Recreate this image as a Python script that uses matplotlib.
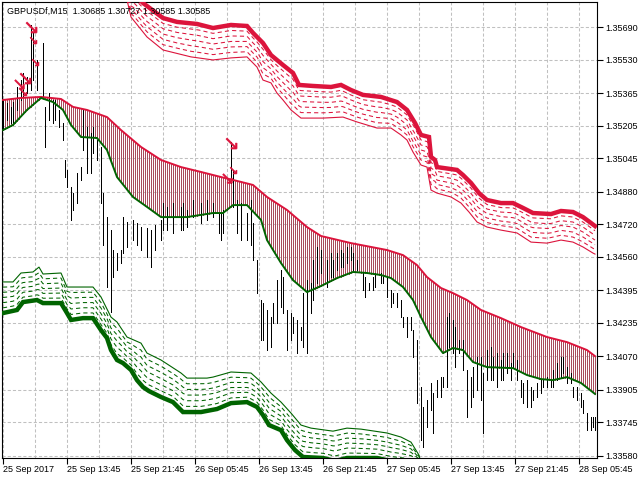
import numpy as np
import matplotlib
matplotlib.use("Agg")
import matplotlib.pyplot as plt
from matplotlib.ticker import MultipleLocator

plt.rcParams['font.family'] = ['Liberation Sans', 'DejaVu Sans']

# ---- data (M15 bar number, price) ----
title = "GBPUSDf,M15  1.30685 1.30727 1.30585 1.30585"

price_ticks = [1.35690, 1.35530, 1.35365, 1.35205, 1.35045, 1.34880, 1.34720,
               1.34560, 1.34395, 1.34235, 1.34070, 1.33905, 1.33745, 1.33580]
price_labels = ["%.5f" % p for p in price_ticks]

time_ticks = [0, 32, 64, 96, 128, 160, 192, 224, 256, 288]
time_labels = ["25 Sep 2017", "25 Sep 13:45", "25 Sep 21:45", "26 Sep 05:45",
               "26 Sep 13:45", "26 Sep 21:45", "27 Sep 05:45", "27 Sep 13:45",
               "27 Sep 21:45", "28 Sep 05:45"]

bar_idx = [0, 2, 4, 5, 7, 9, 10, 12, 14, 15, 17, 20, 21, 23, 25, 26, 28, 30, 31, 32,
           34, 35, 37, 39, 40, 42, 44, 45, 47, 49, 50, 52, 54, 55, 57, 59, 60, 62, 65, 67,
           69, 72, 74, 76, 79, 80, 82, 85, 89, 90, 92, 95, 99, 102, 105, 108, 109, 110, 114, 115,
           117, 119, 122, 124, 125, 127, 129, 130, 132, 134, 135, 137, 139, 140, 142, 144, 145, 147, 149, 150,
           152, 154, 155, 157, 159, 162, 164, 165, 167, 169, 170, 172, 174, 175, 177, 180, 181, 183, 185, 186,
           189, 190, 192, 194, 195, 197, 199, 200, 202, 204, 205, 207, 209, 210, 212, 214, 215, 217, 219, 220,
           222, 223, 225, 226, 228, 230, 232, 234, 235, 237, 239, 240, 242, 244, 245, 247, 249, 250, 252, 254,
           255, 257, 259, 260, 262, 264, 265, 267, 269, 270, 272, 274, 275, 277, 279, 280, 282, 284, 285, 287,
           289, 290, 292, 294, 295, 296]
bar_high = [1.35331, 1.35316, 1.35297, 1.35321, 1.35395, 1.35429, 1.35464, 1.35444, 1.35700, 1.35661,
            1.35528, 1.35611, 1.35297, 1.35365, 1.35331, 1.35331, 1.35282, 1.35218, 1.35036, 1.34987,
            1.34903, 1.34873, 1.34972, 1.35001, 1.35282, 1.35198, 1.35169, 1.35198, 1.35134, 1.35100,
            1.34873, 1.34755, 1.34691, 1.34593, 1.34578, 1.34593, 1.34755, 1.34731, 1.34741, 1.34726,
            1.34706, 1.34701, 1.34691, 1.34716, 1.34741, 1.34824, 1.34805, 1.34824, 1.34805, 1.34824,
            1.34790, 1.34839, 1.34824, 1.34839, 1.34824, 1.34775, 1.34775, 1.34790, 1.35124, 1.34987,
            1.34839, 1.34824, 1.34775, 1.34839, 1.34726, 1.34544, 1.34347, 1.34332, 1.34298, 1.34263,
            1.34332, 1.34445, 1.34495, 1.34460, 1.34298, 1.34283, 1.34263, 1.34249, 1.34214, 1.34381,
            1.34445, 1.34431, 1.34544, 1.34608, 1.34593, 1.34544, 1.34578, 1.34544, 1.34578, 1.34593,
            1.34578, 1.34608, 1.34608, 1.34578, 1.34544, 1.34480, 1.34460, 1.34431, 1.34460, 1.34480,
            1.34480, 1.34460, 1.34460, 1.34396, 1.34381, 1.34381, 1.34347, 1.34263, 1.34263, 1.34263,
            1.34199, 1.34150, 1.33919, 1.33821, 1.33855, 1.33939, 1.33889, 1.33953, 1.33968, 1.33968,
            1.34263, 1.34283, 1.34249, 1.34214, 1.34150, 1.34150, 1.34003, 1.33968, 1.34017, 1.34067,
            1.34067, 1.33988, 1.34101, 1.34116, 1.34067, 1.34086, 1.34052, 1.34086, 1.34086, 1.34037,
            1.34086, 1.34052, 1.33953, 1.33939, 1.33953, 1.33919, 1.33904, 1.33939, 1.33953, 1.33953,
            1.33968, 1.33953, 1.34003, 1.34037, 1.34067, 1.34067, 1.34017, 1.33988, 1.33919, 1.33919,
            1.33889, 1.33855, 1.33791, 1.33771, 1.33771, 1.33771]
bar_low = [1.35183, 1.35233, 1.35218, 1.35218, 1.35282, 1.35331, 1.35346, 1.35365, 1.35380, 1.35429,
           1.35380, 1.35346, 1.35100, 1.35233, 1.35218, 1.35233, 1.35198, 1.35134, 1.34952, 1.34903,
           1.34741, 1.34790, 1.34824, 1.34937, 1.35085, 1.34972, 1.34972, 1.35070, 1.35036, 1.34824,
           1.34618, 1.34411, 1.34288, 1.34460, 1.34495, 1.34529, 1.34578, 1.34608, 1.34642, 1.34618,
           1.34593, 1.34559, 1.34509, 1.34593, 1.34642, 1.34691, 1.34691, 1.34677, 1.34691, 1.34691,
           1.34706, 1.34755, 1.34726, 1.34741, 1.34755, 1.34677, 1.34642, 1.34677, 1.34923, 1.34805,
           1.34677, 1.34642, 1.34642, 1.34618, 1.34544, 1.34381, 1.34150, 1.34150, 1.34101, 1.34116,
           1.34234, 1.34234, 1.34313, 1.34283, 1.34101, 1.34150, 1.34185, 1.34086, 1.34150, 1.34116,
           1.34086, 1.34283, 1.34347, 1.34431, 1.34480, 1.34411, 1.34460, 1.34460, 1.34495, 1.34509,
           1.34509, 1.34529, 1.34544, 1.34495, 1.34495, 1.34396, 1.34362, 1.34396, 1.34396, 1.34411,
           1.34431, 1.34431, 1.34362, 1.34313, 1.34332, 1.34313, 1.34263, 1.34214, 1.34165, 1.34199,
           1.34067, 1.33840, 1.33658, 1.33624, 1.33722, 1.33806, 1.33693, 1.33870, 1.33870, 1.33919,
           1.33919, 1.34116, 1.34086, 1.34017, 1.34086, 1.34003, 1.33771, 1.33821, 1.33870, 1.33904,
           1.33855, 1.33693, 1.33953, 1.33953, 1.33953, 1.33919, 1.33953, 1.33953, 1.33988, 1.33953,
           1.34017, 1.33953, 1.33870, 1.33840, 1.33821, 1.33821, 1.33855, 1.33870, 1.33889, 1.33919,
           1.33919, 1.33919, 1.33919, 1.33953, 1.33968, 1.33988, 1.33939, 1.33939, 1.33870, 1.33855,
           1.33821, 1.33791, 1.33707, 1.33707, 1.33722, 1.33707]

# envelope band (upper red / lower green)
band_hi_idx = [0, 9, 19, 29, 35, 42, 52, 59, 69, 79, 89, 99, 109, 119, 125, 132, 142, 152, 159, 174,
               192, 200, 207, 212, 219, 225, 232, 239, 249, 259, 272, 282, 292, 296]
band_hi = [1.35331, 1.35341, 1.35346, 1.35336, 1.35297, 1.35282, 1.35247, 1.35183, 1.35100, 1.35036,
           1.35001, 1.34977, 1.34952, 1.34928, 1.34913, 1.34854, 1.34790, 1.34706, 1.34662, 1.34627,
           1.34593, 1.34568, 1.34519, 1.34460, 1.34406, 1.34381, 1.34347, 1.34298, 1.34258, 1.34214,
           1.34165, 1.34140, 1.34101, 1.34071]
band_lo_idx = [0, 5, 12, 19, 25, 30, 34, 39, 47, 52, 57, 65, 72, 79, 92, 105, 110, 115, 122, 129,
               132, 139, 145, 152, 159, 167, 175, 182, 189, 194, 200, 205, 209, 214, 220, 225, 230, 235,
               242, 255, 262, 269, 275, 282, 289, 296]
band_lo = [1.35183, 1.35208, 1.35282, 1.35341, 1.35321, 1.35282, 1.35208, 1.35149, 1.35144, 1.35085,
           1.34952, 1.34854, 1.34805, 1.34755, 1.34755, 1.34775, 1.34775, 1.34814, 1.34814, 1.34741,
           1.34642, 1.34529, 1.34445, 1.34386, 1.34416, 1.34455, 1.34485, 1.34480, 1.34470, 1.34455,
           1.34411, 1.34347, 1.34263, 1.34165, 1.34086, 1.34111, 1.34101, 1.34042, 1.34017, 1.34012,
           1.33978, 1.33958, 1.33953, 1.33968, 1.33939, 1.33885]

# upper channel (thick top edge / thin lower edge)
ch_top_idx = [66, 70, 80, 87, 97, 105, 114, 122, 125, 130, 134, 140, 145, 148, 155, 164, 169, 174, 180, 189,
              197, 202, 206, 209, 213, 214, 216, 217, 227, 230, 234, 238, 242, 249, 255, 260, 265, 274, 279, 285,
              290, 294, 296]
ch_top = [1.35848, 1.35808, 1.35734, 1.35715, 1.35705, 1.35685, 1.35700, 1.35695, 1.35661, 1.35611,
          1.35552, 1.35503, 1.35464, 1.35405, 1.35400, 1.35395, 1.35405, 1.35380, 1.35356, 1.35346,
          1.35321, 1.35282, 1.35218, 1.35159, 1.35149, 1.35051, 1.35036, 1.35001, 1.34987, 1.34962,
          1.34923, 1.34873, 1.34839, 1.34824, 1.34824, 1.34800, 1.34775, 1.34770, 1.34785, 1.34780,
          1.34755, 1.34726, 1.34711]
ch_top_lo_idx = [59, 62, 64, 72, 80, 94, 105, 114, 122, 127, 130, 134, 137, 140, 144, 149, 160, 170, 177, 187,
                 194, 199, 202, 205, 209, 212, 214, 217, 224, 229, 233, 237, 242, 249, 257, 264, 272, 279, 285, 290,
                 295, 296]
ch_top_lo = [1.35897, 1.35823, 1.35739, 1.35641, 1.35577, 1.35543, 1.35528, 1.35538, 1.35543, 1.35493,
             1.35429, 1.35415, 1.35365, 1.35331, 1.35282, 1.35242, 1.35242, 1.35247, 1.35223, 1.35193,
             1.35193, 1.35159, 1.35134, 1.35075, 1.35011, 1.35001, 1.34888, 1.34873, 1.34854, 1.34824,
             1.34780, 1.34731, 1.34706, 1.34691, 1.34677, 1.34632, 1.34627, 1.34642, 1.34632, 1.34608,
             1.34578, 1.34573]

# lower channel (thick bottom edge / thin upper edge)
ch_bot_idx = [0, 7, 10, 17, 20, 29, 32, 34, 40, 45, 49, 52, 54, 57, 60, 64, 67, 70, 73, 79,
              85, 90, 99, 107, 114, 122, 127, 130, 133, 139, 142, 146, 150, 160, 166, 172, 187, 194, 209]
ch_bot = [1.34283, 1.34298, 1.34337, 1.34347, 1.34332, 1.34332, 1.34283, 1.34249, 1.34258, 1.34258,
          1.34199, 1.34160, 1.34101, 1.34052, 1.34037, 1.34003, 1.33953, 1.33919, 1.33899, 1.33870,
          1.33845, 1.33796, 1.33796, 1.33811, 1.33840, 1.33845, 1.33821, 1.33781, 1.33732, 1.33707,
          1.33658, 1.33609, 1.33575, 1.33570, 1.33555, 1.33570, 1.33570, 1.33555, 1.33545]
ch_bot_hi_idx = [0, 5, 9, 15, 18, 20, 29, 32, 45, 49, 54, 57, 62, 69, 72, 79, 89, 92, 102, 105,
                 114, 124, 129, 134, 139, 144, 149, 154, 165, 172, 179, 192, 199, 204, 208, 209]
ch_bot_hi = [1.34436, 1.34436, 1.34480, 1.34485, 1.34509, 1.34475, 1.34480, 1.34411, 1.34411, 1.34362,
             1.34263, 1.34239, 1.34165, 1.34135, 1.34086, 1.34052, 1.33988, 1.33963, 1.33963, 1.33968,
             1.33993, 1.33988, 1.33944, 1.33889, 1.33845, 1.33791, 1.33732, 1.33717, 1.33702, 1.33717,
             1.33712, 1.33693, 1.33673, 1.33648, 1.33584, 1.33545]

# sell signal arrows
sig_idx = [14, 15, 16, 11, 8, 10, 114, 115, 112]
sig_price = [1.35690, 1.35626, 1.35518, 1.35439, 1.35410, 1.35370, 1.35119, 1.34987, 1.34947]
sig_size = [8, 5, 5, 8, 7, 5, 8, 5, 7]

RED = "#DC143C"
GREEN = "#006400"
N_LEVELS = 6

fig = plt.figure(figsize=(6.4, 4.8), dpi=100)
ax = fig.add_axes([2 / 640, 22 / 480, 595 / 640, 456 / 480])
ax.set_xlim(-0.5, 297)
ax.set_ylim(1.33570, 1.35813)

# envelope histogram
g = np.arange(0, 297)
hi = np.interp(g, band_hi_idx, band_hi)
lo = np.interp(g, band_lo_idx, band_lo)
ax.vlines(g, lo, hi, colors="#a84c5c", linewidth=0.72, antialiased=False, zorder=1)

# price bars
ax.vlines(bar_idx, bar_low, bar_high, colors="black", linewidth=0.65, antialiased=False, zorder=3)

ax.plot(band_hi_idx, band_hi, color=RED, lw=1.4, zorder=4)
ax.plot(band_lo_idx, band_lo, color=GREEN, lw=1.4, zorder=4)

# upper channel
gt = np.arange(62, 297)
top_a = np.interp(gt, ch_top_idx, ch_top)
top_b = np.interp(gt, ch_top_lo_idx, ch_top_lo)
for k in range(1, N_LEVELS):
    ax.plot(gt, top_a + (top_b - top_a) * k / N_LEVELS, color=RED, lw=0.75,
            dashes=(4, 3), zorder=4)
ax.plot(ch_top_lo_idx, ch_top_lo, color=RED, lw=0.8, zorder=4)
ax.plot(ch_top_idx, ch_top, color=RED, lw=3.2, solid_joinstyle="miter", zorder=5)

# lower channel
gb = np.arange(0, 210)
bot_a = np.interp(gb, ch_bot_idx, ch_bot)
bot_b = np.interp(gb, ch_bot_hi_idx, ch_bot_hi)
for k in range(1, N_LEVELS):
    ax.plot(gb, bot_a + (bot_b - bot_a) * k / N_LEVELS, color=GREEN, lw=0.75,
            dashes=(4, 3), zorder=4)
ax.plot(ch_bot_hi_idx, ch_bot_hi, color=GREEN, lw=0.8, zorder=4)
ax.plot(ch_bot_idx, ch_bot, color=GREEN, lw=3.2, solid_joinstyle="miter", zorder=5)

# signal arrows as markers
for i, p, s in zip(sig_idx, sig_price, sig_size):
    ax.plot([i], [p], marker=r"$\searrow$", markersize=s, color=RED,
            markeredgewidth=0.4, linestyle="none", zorder=6)

# axes cosmetics
ax.set_yticks(price_ticks)
ax.set_yticklabels(price_labels)
ax.yaxis.tick_right()
ax.set_xticks(time_ticks)
ax.set_xticklabels(time_labels, ha="left")
ax.xaxis.set_minor_locator(MultipleLocator(16))
ax.grid(which="both", color="#c0c0c0", linestyle=(0, (3, 2)), linewidth=0.75, zorder=0)
ax.set_axisbelow(True)
ax.tick_params(axis="x", which="minor", length=0)
ax.tick_params(axis="x", which="major", length=4, width=0.8, pad=1, labelsize=6.5)
ax.tick_params(axis="y", length=4, width=0.8, pad=2, labelsize=6.5)
for sp in ax.spines.values():
    sp.set_color("black")
    sp.set_linewidth(0.8)

fig.text(7 / 640, 1 - 11 / 480, title, fontsize=6.5, va="center", ha="left", zorder=10)

fig.savefig("out.png", dpi=100)
